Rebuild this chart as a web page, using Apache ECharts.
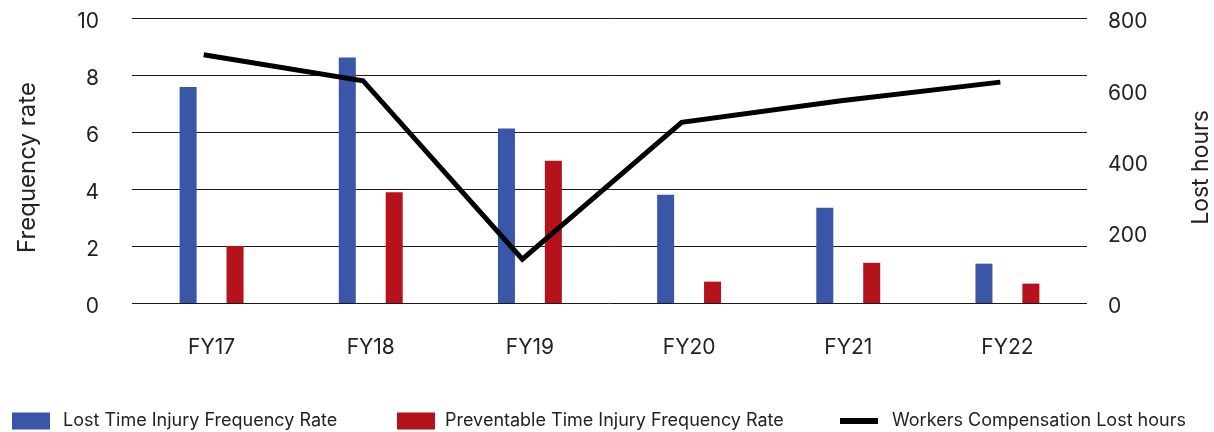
<!DOCTYPE html>
<html>
<head>
<meta charset="utf-8">
<script src="https://cdn.jsdelivr.net/npm/echarts@6/dist/echarts.min.js"></script>
<style>
  html, body { margin: 0; padding: 0; background: #ffffff; }
  #chart { width: 1214px; height: 432px; }
</style>
</head>
<body>
<div id="chart"></div>
<script>
// Safety performance by financial year
const years = ['FY17', 'FY18', 'FY19', 'FY20', 'FY21', 'FY22'];
const ltifr = [7.58, 8.61, 6.12, 3.80, 3.34, 1.38];
const ptifr = [2.00, 3.89, 4.99, 0.75, 1.41, 0.68];
const lostHours = [697, 624, 123, 507, 568, 620];

const rateTicks = { min: 0, max: 10, interval: 2 };
const hoursTicks = { min: 0, max: 800, interval: 200 };

const FONT = 'Inter, "Noto Sans", sans-serif';
const TEXT = '#222222';
const BLUE = '#3a57a7';
const RED = '#b5121b';

const chart = echarts.init(document.getElementById('chart'), null, { renderer: 'canvas' });

const legendText = { fontFamily: FONT, fontSize: 18, color: TEXT, lineHeight: 18 };

// value-axis tick labels sit a little below their gridlines
const tickLabel = (margin) => ({
  margin: margin,
  formatter: (v) => '{t|' + v + '}',
  rich: { t: { fontFamily: FONT, fontSize: 21, color: TEXT, padding: [8, 0, 0, 0] } }
});

chart.setOption({
  animation: false,
  textStyle: { fontFamily: FONT, color: TEXT },
  grid: [
    { left: 132, right: 127, top: 18, height: 285, containLabel: false, outerBoundsMode: 'none' },
    // the lost-hours line sits slightly left of the category centres
    { left: 124, right: 134, top: 18, height: 285, containLabel: false, outerBoundsMode: 'none' }
  ],
  xAxis: [
    {
      type: 'category', data: years, gridIndex: 0,
      axisLine: { show: false }, axisTick: { show: false },
      axisLabel: { fontFamily: FONT, fontSize: 21, color: TEXT, margin: 34 }
    },
    {
      type: 'category', data: years, gridIndex: 1, show: false
    }
  ],
  yAxis: [
    {
      type: 'value', gridIndex: 0, position: 'left',
      min: rateTicks.min, max: rateTicks.max, interval: rateTicks.interval,
      name: 'Frequency rate', nameLocation: 'middle', nameGap: 92,
      nameTextStyle: { fontFamily: FONT, fontSize: 24, color: TEXT, padding: [0, 14, 0, 0] },
      axisLine: { show: false }, axisTick: { show: false },
      axisLabel: tickLabel(33),
      splitLine: { show: true, lineStyle: { color: '#1a1a1a', width: 1 } }
    },
    {
      type: 'value', gridIndex: 0, position: 'right',
      min: hoursTicks.min, max: hoursTicks.max, interval: hoursTicks.interval,
      name: 'Lost hours', nameLocation: 'middle', nameGap: 103,
      nameTextStyle: { fontFamily: FONT, fontSize: 23, color: TEXT, padding: [0, 14, 0, 0] },
      axisLine: { show: false }, axisTick: { show: false },
      axisLabel: tickLabel(21),
      splitLine: { show: false }
    },
    {
      type: 'value', gridIndex: 1, show: false,
      min: hoursTicks.min, max: hoursTicks.max, interval: hoursTicks.interval,
      splitLine: { show: false }
    }
  ],
  legend: [
    {
      left: 12, top: 412, padding: 0, itemWidth: 38, itemHeight: 17,
      data: [{ name: 'Lost Time Injury Frequency Rate', icon: 'rect' }],
      textStyle: Object.assign({ padding: [0, 0, 0, 8] }, legendText)
    },
    {
      left: 397, top: 412, padding: 0, itemWidth: 38, itemHeight: 17,
      data: [{ name: 'Preventable Time Injury Frequency Rate', icon: 'rect' }],
      textStyle: Object.assign({ padding: [0, 0, 0, 5] }, legendText)
    },
    {
      left: 840, top: 412, padding: 0, itemWidth: 38, itemHeight: 6,
      data: [{ name: 'Workers Compensation Lost hours', icon: 'rect' }],
      itemStyle: { color: '#000000' },
      textStyle: Object.assign({ padding: [0, 0, 0, 9] }, legendText)
    }
  ],
  series: [
    {
      name: 'Lost Time Injury Frequency Rate', type: 'bar',
      xAxisIndex: 0, yAxisIndex: 0, data: ltifr,
      barWidth: 17, barGap: '176%',
      itemStyle: { color: BLUE }
    },
    {
      name: 'Preventable Time Injury Frequency Rate', type: 'bar',
      xAxisIndex: 0, yAxisIndex: 0, data: ptifr,
      barWidth: 17, barGap: '176%',
      itemStyle: { color: RED }
    },
    {
      name: 'Workers Compensation Lost hours', type: 'line',
      xAxisIndex: 1, yAxisIndex: 2, data: lostHours,
      symbol: 'none', z: 5,
      itemStyle: { color: '#000000' },
      lineStyle: { color: '#000000', width: 5, join: 'miter', cap: 'butt' }
    }
  ]
});
</script>
</body>
</html>
